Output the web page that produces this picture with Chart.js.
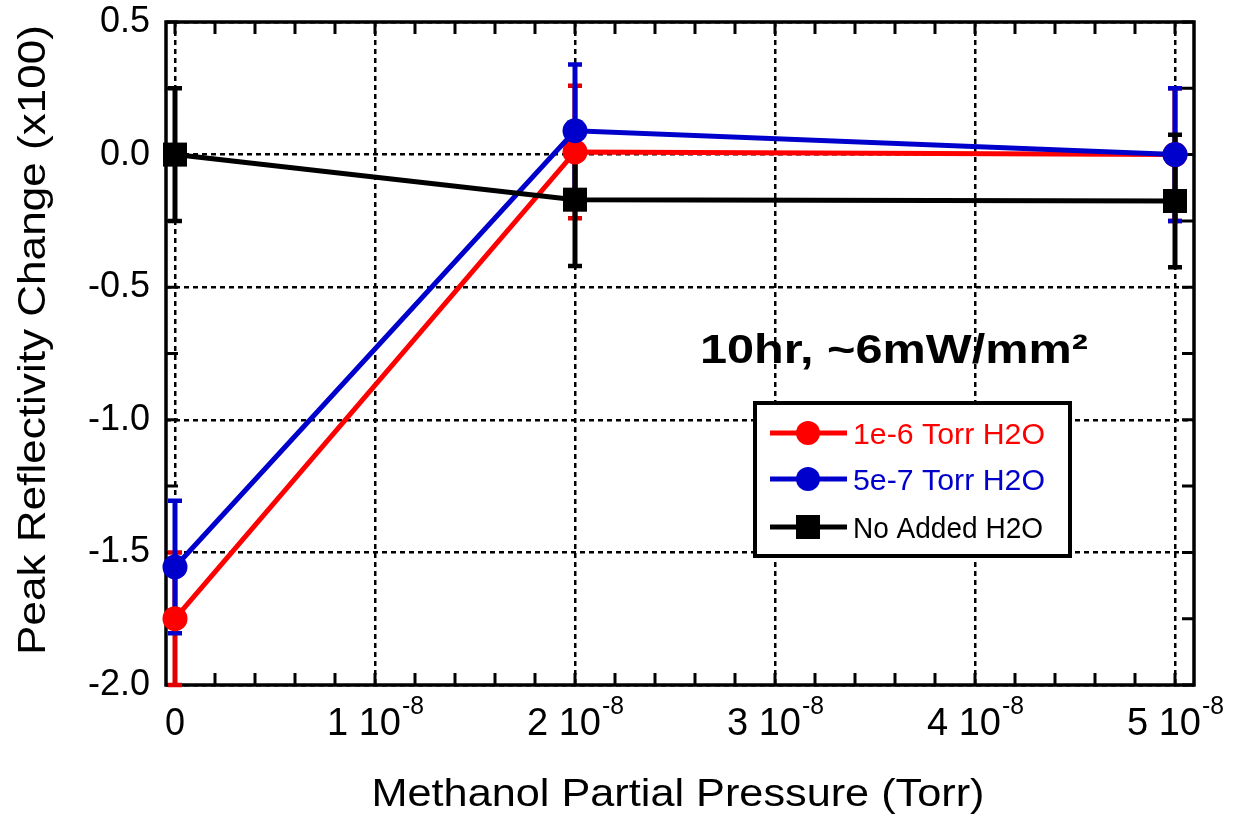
<!DOCTYPE html>
<html>
<head>
<meta charset="utf-8">
<script src="https://cdn.jsdelivr.net/npm/chart.js@4.4.0/dist/chart.umd.min.js"></script>
<style>
  html, body { margin: 0; padding: 0; background: #fff; }
  #wrap { width: 1233px; height: 814px; }
</style>
</head>
<body>
<div id="wrap"><canvas id="chart" width="1233" height="814"></canvas></div>
<script>
// methanol partial pressure, in units of 1e-8 Torr
const pressure = [0, 2, 5];
const xTicks = [0, 1, 2, 3, 4, 5];
const yTicks = [-2.0, -1.5, -1.0, -0.5, 0.0, 0.5];

// peak reflectivity change (x100), with error bar half widths
const waterHigh = [-1.75, 0.01, 0.0];
const waterHighErr = [0.25, 0.25, 0.25];
const waterLow = [-1.555, 0.09, 0.0];
const waterLowErr = [0.25, 0.25, 0.25];
const noWater = [0.0, -0.17, -0.175];
const noWaterErr = [0.25, 0.25, 0.25];

const seriesNames = ['1e-6 Torr H2O', '5e-7 Torr H2O', 'No Added H2O'];
const seriesColors = ['#ff0000', '#0000cc', '#000000'];
const errColors = ['#e00000', '#0000cc', '#000000'];

const FONT = '"Liberation Sans", Arial, Helvetica, sans-serif';

const toPoints = (vals) => vals.map((v, i) => ({ x: pressure[i], y: v }));

// draw text squeezed/stretched to a given width
function fitText(ctx, text, x, y, width, font, align) {
  ctx.save();
  ctx.font = font;
  const w = ctx.measureText(text).width;
  const sx = width / w;
  ctx.translate(x, y);
  ctx.scale(sx, 1);
  ctx.textAlign = align || 'center';
  ctx.fillText(text, 0, 0);
  ctx.restore();
}

const frame = {
  id: 'frame',
  beforeDatasetsDraw(chart) {
    const { ctx, chartArea: a, scales } = chart;
    const xs = scales.x, ys = scales.y;
    ctx.save();

    // minor ticks pointing inward
    ctx.strokeStyle = '#000';
    ctx.lineWidth = 3;
    ctx.beginPath();
    for (let v = 0; v <= 5.0001; v += 0.2) {
      const px = xs.getPixelForValue(v);
      ctx.moveTo(px, a.bottom); ctx.lineTo(px, a.bottom - 12);
      ctx.moveTo(px, a.top); ctx.lineTo(px, a.top + 12);
    }
    for (let v = -2; v <= 0.5001; v += 0.25) {
      const py = ys.getPixelForValue(v);
      ctx.moveTo(a.left, py); ctx.lineTo(a.left + 12, py);
      ctx.moveTo(a.right, py); ctx.lineTo(a.right - 12, py);
    }
    ctx.stroke();

    // box
    ctx.lineWidth = 3.5;
    ctx.strokeRect(a.left, a.top, a.right - a.left, a.bottom - a.top);

    // error bars
    const sets = [[waterHigh, waterHighErr], [waterLow, waterLowErr], [noWater, noWaterErr]];
    sets.forEach(([vals, errs], s) => {
      ctx.strokeStyle = errColors[s];
      ctx.lineWidth = 5;
      vals.forEach((v, i) => {
        const px = xs.getPixelForValue(pressure[i]);
        const top = ys.getPixelForValue(v + errs[i]);
        const bot = ys.getPixelForValue(v - errs[i]);
        ctx.beginPath();
        ctx.moveTo(px, top); ctx.lineTo(px, bot);
        ctx.stroke();
        ctx.lineWidth = 4.5;
        ctx.beginPath();
        ctx.moveTo(px - 7, top); ctx.lineTo(px + 7, top);
        ctx.moveTo(px - 7, bot); ctx.lineTo(px + 7, bot);
        ctx.stroke();
        ctx.lineWidth = 5;
      });
    });
    ctx.restore();
  },
  afterDraw(chart) {
    const { ctx, scales } = chart;
    const xs = scales.x;
    ctx.save();
    ctx.fillStyle = '#000';
    ctx.textBaseline = 'alphabetic';

    // x tick labels with superscript exponent
    xs.ticks.forEach((t) => {
      const px = xs.getPixelForValue(t.value);
      if (t.value === 0) {
        fitText(ctx, '0', px, 735, 20, '38px ' + FONT);
        return;
      }
      const base = t.value + ' 10';
      const sup = '-8';
      const wb = 74, ws = 22;
      const x0 = px - (wb + ws) / 2;
      fitText(ctx, base, x0, 735, wb, '38px ' + FONT, 'left');
      fitText(ctx, sup, x0 + wb + 1, 714, ws, '25px ' + FONT, 'left');
    });

    // axis titles
    fitText(ctx, 'Methanol Partial Pressure (Torr)', 678, 806, 613, '38px ' + FONT);
    ctx.save();
    ctx.translate(45, 340);
    ctx.rotate(-Math.PI / 2);
    fitText(ctx, 'Peak Reflectivity Change (x100)', 0, 0, 630, '38px ' + FONT);
    ctx.restore();

    // condition note
    fitText(ctx, '10hr, ~6mW/mm\u00b2', 700, 363, 388, 'bold 40px ' + FONT, 'left');

    // legend
    const L = { x: 755, y: 403, w: 315, h: 153 };
    ctx.fillStyle = '#fff';
    ctx.fillRect(L.x, L.y, L.w, L.h);
    ctx.strokeStyle = '#000';
    ctx.lineWidth = 4;
    ctx.strokeRect(L.x, L.y, L.w, L.h);
    const rows = [433, 479, 527];
    const textW = [192, 192, 190];
    seriesNames.forEach((name, i) => {
      const y = rows[i];
      ctx.strokeStyle = seriesColors[i];
      ctx.fillStyle = seriesColors[i];
      ctx.lineWidth = 5;
      ctx.beginPath();
      ctx.moveTo(770, y); ctx.lineTo(847, y);
      ctx.stroke();
      if (i < 2) {
        ctx.beginPath();
        ctx.arc(808, y, 12, 0, Math.PI * 2);
        ctx.fill();
      } else {
        ctx.fillRect(796, y - 12, 24, 24);
      }
      fitText(ctx, name, 853, y + 11, textW[i], '30px ' + FONT, 'left');
    });
    ctx.restore();
  }
};

const datasets = [
  { label: seriesNames[2], data: toPoints(noWater), color: seriesColors[2], style: 'rect', r: 17, order: 0 },
  { label: seriesNames[1], data: toPoints(waterLow), color: seriesColors[1], style: 'circle', r: 12.5, order: 1 },
  { label: seriesNames[0], data: toPoints(waterHigh), color: seriesColors[0], style: 'circle', r: 12.5, order: 2 }
].map((d) => ({
  label: d.label,
  data: d.data,
  order: d.order,
  showLine: true,
  borderColor: d.color,
  backgroundColor: d.color,
  borderWidth: 5,
  pointStyle: d.style,
  pointRadius: d.r,
  pointBorderWidth: 0,
  pointBackgroundColor: d.color,
  clip: false
}));

new Chart(document.getElementById('chart'), {
  type: 'scatter',
  data: { datasets },
  plugins: [frame],
  options: {
    responsive: false,
    devicePixelRatio: 1,
    animation: false,
    layout: { padding: { top: 22, right: 39, left: 0, bottom: 0 } },
    plugins: { legend: { display: false }, tooltip: { enabled: false } },
    scales: {
      x: {
        type: 'linear',
        min: -0.045,
        max: 5.095,
        afterBuildTicks: (s) => { s.ticks = xTicks.map((v) => ({ value: v })); },
        afterFit: (s) => { s.height = 129; s.paddingLeft = 0; s.paddingRight = 0; },
        ticks: { display: false },
        grid: { color: '#000', lineWidth: 2.5, drawTicks: false },
        border: { display: false, dash: [5, 4] },
        title: { display: false }
      },
      y: {
        type: 'linear',
        min: -2,
        max: 0.5,
        afterBuildTicks: (s) => { s.ticks = yTicks.map((v) => ({ value: v })); },
        afterFit: (s) => { s.width = 166; s.paddingTop = 0; s.paddingBottom = 0; },
        ticks: {
          color: '#000',
          padding: 16,
          font: { family: FONT, size: 36 },
          callback: (v) => v.toFixed(1)
        },
        grid: { color: '#000', lineWidth: 2.5, drawTicks: false },
        border: { display: false, dash: [5, 4] },
        title: { display: false }
      }
    }
  }
});
</script>
</body>
</html>
